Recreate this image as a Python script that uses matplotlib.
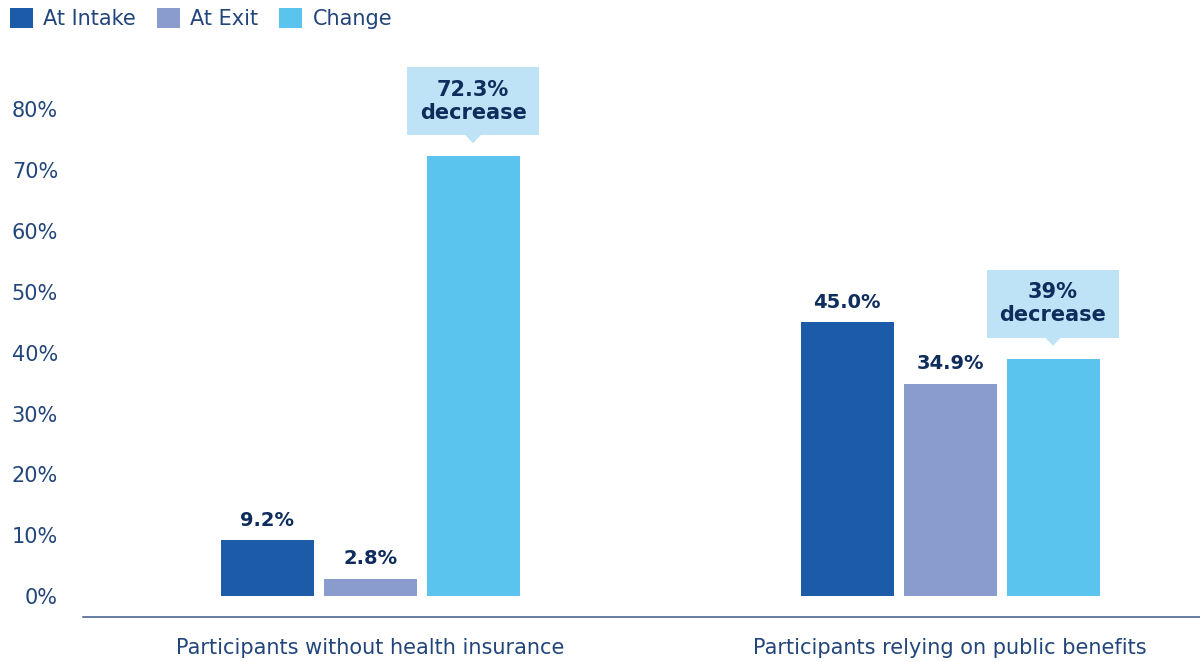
import numpy as np
import matplotlib.pyplot as plt
import matplotlib.transforms as mtransforms
from matplotlib.patches import Rectangle, Polygon, Patch

# chart data
categories = ['Participants without health insurance', 'Participants relying on public benefits']
series_names = ['At Intake', 'At Exit', 'Change']
at_intake = [9.2, 45.0]
at_exit = [2.8, 34.9]
change = [72.3, 39]
yticks = [0, 10, 20, 30, 40, 50, 60, 70, 80]

colors = ['#1b5ba8', '#8a9bcd', '#5ac3ee']
box_color = '#bee2f6'
navy = '#0f2d5c'
text_color = '#22457a'

plt.rcParams['font.family'] = ['DejaVu Sans']

fig = plt.figure(figsize=(12, 6.62), dpi=100)
ax = fig.add_axes([83 / 1200, 45 / 662, 1 - 83 / 1200, 1 - 45 / 662])

x = np.arange(len(categories))
step = 0.1776
width = 0.1603
series = [at_intake, at_exit, change]

for i, (vals, c) in enumerate(zip(series, colors)):
    ax.bar(x + (i - 1) * step, vals, width=width, color=c, zorder=2)

# value labels above the intake / exit bars
for i, vals in enumerate([at_intake, at_exit]):
    for xi, v in zip(x, vals):
        xc = xi + (i - 1) * step
        trans = fig.dpi_scale_trans + mtransforms.ScaledTranslation(xc, v, ax.transData)
        ax.text(0, 0.20, f'{v:.1f}%', transform=trans, ha='center', va='center',
                fontsize=14, fontweight='heavy', color=navy)

# callout boxes above the change bars
for xi, v in zip(x, change):
    xc = xi + step
    trans = fig.dpi_scale_trans + mtransforms.ScaledTranslation(xc, v, ax.transData)
    ax.add_patch(Rectangle((-0.66, 0.21), 1.32, 0.68, transform=trans,
                           facecolor=box_color, edgecolor='none', clip_on=False))
    ax.add_patch(Polygon([(-0.08, 0.215), (0.08, 0.215), (0, 0.13)], closed=True,
                         transform=trans, facecolor=box_color, edgecolor='none', clip_on=False))
    ax.text(0, 0.55, f'{v:g}%\ndecrease', transform=trans, ha='center', va='center',
            fontsize=15, fontweight='heavy', color=navy, linespacing=1.2)

ax.set_xlim(-0.495, 1.431)
ax.set_ylim(-3.45, 98.0)
ax.set_xticks(x)
ax.set_xticklabels(categories, fontsize=15, color=text_color)
ax.set_yticks(yticks)
ax.set_yticklabels([f'{t}%' for t in yticks], fontsize=15, color=text_color)
ax.tick_params(axis='both', length=0)
ax.tick_params(axis='y', pad=18)
ax.tick_params(axis='x', pad=15)

for side in ['top', 'right', 'left']:
    ax.spines[side].set_visible(False)
ax.spines['bottom'].set_color('#3a5a8c')
ax.spines['bottom'].set_linewidth(1.1)

handles = [Patch(facecolor=c, edgecolor='none') for c in colors]
fig.legend(handles, series_names, loc='upper left', bbox_to_anchor=(10 / 1200, 1 - 8 / 662),
           ncol=3, frameon=False, fontsize=15, handlelength=1.1, handleheight=1.1,
           handletextpad=0.5, columnspacing=1.0, borderpad=0, borderaxespad=0,
           labelcolor=text_color)

fig.savefig('out.png', dpi=100)
